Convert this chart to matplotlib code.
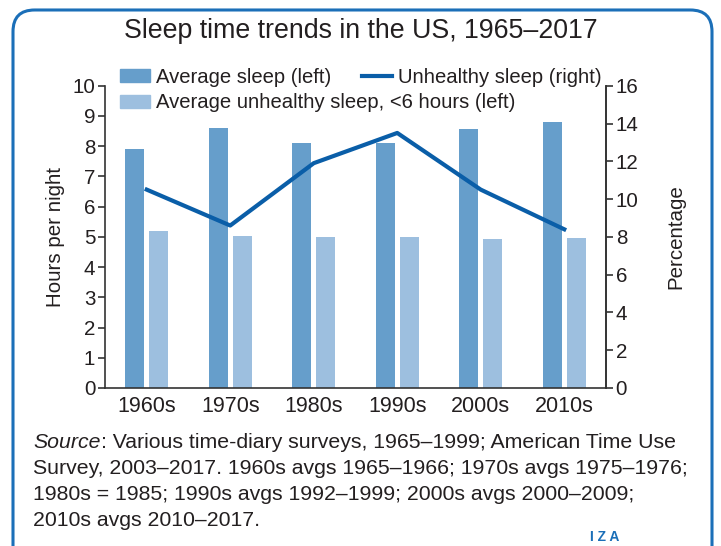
import matplotlib
matplotlib.use('Agg')
import matplotlib.pyplot as plt
import numpy as np
from matplotlib.patches import FancyBboxPatch, Patch
from matplotlib.lines import Line2D

decades = ['1960s', '1970s', '1980s', '1990s', '2000s', '2010s']
avg_sleep = [7.9, 8.6, 8.1, 8.1, 8.57, 8.8]
avg_unhealthy = [5.2, 5.03, 5.0, 5.0, 4.93, 4.96]
unhealthy_pct = [10.5, 8.6, 11.9, 13.5, 10.5, 8.4]

plt.rcParams['font.family'] = ['Liberation Sans', 'DejaVu Sans']
txt = '#231f20'
dark = '#669ecb'
light = '#9dbfdf'
line_c = '#0a5ea8'
fs = 14.8

fig = plt.figure(figsize=(7.21, 5.46), dpi=100)
ax = fig.add_axes([0.1456, 0.2894, 0.6949, 0.5536])
ax2 = ax.twinx()

x = np.arange(len(decades))
w = 0.228
ax.bar(x - 0.144, avg_sleep, w, color=dark, zorder=2)
ax.bar(x + 0.144, avg_unhealthy, w, color=light, zorder=2)
ax2.plot(x, unhealthy_pct, color=line_c, lw=3.0, zorder=3)

ax.set_xlim(-0.5, 5.5)
ax.set_ylim(0, 10)
ax2.set_ylim(0, 16)
ax.set_yticks(range(0, 11))
ax2.set_yticks(range(0, 17, 2))
ax.set_xticks(x)
ax.set_xticklabels(decades)

for a in (ax, ax2):
    a.spines['top'].set_visible(False)
    for s in a.spines.values():
        s.set_color('#333333')
        s.set_linewidth(1.2)
    a.tick_params(axis='y', length=5, width=1.2, colors='#333333', labelsize=fs, labelcolor=txt, pad=2)
ax.tick_params(axis='x', length=0, labelsize=15.5, labelcolor=txt, pad=6)
ax2.spines['left'].set_visible(False)
ax2.spines['bottom'].set_visible(False)

ax.set_ylabel('Hours per night', fontsize=fs, color=txt, labelpad=5)
ax2.set_ylabel('Percentage', fontsize=fs, color=txt, labelpad=20)

handles = [Patch(color=dark), Line2D([], [], color=line_c, lw=3.0), Patch(color=light)]
labels = ['Average sleep (left)', 'Unhealthy sleep (right)', 'Average unhealthy sleep, <6 hours (left)']
lfs = 14.6
leg = fig.legend(handles[:2], labels[:2], loc='upper left', bbox_to_anchor=(0.166, 0.876), ncol=2,
                 frameon=False, fontsize=lfs, handlelength=1.5, handleheight=0.6,
                 handletextpad=0.3, columnspacing=1.5, borderaxespad=0, borderpad=0)
for t in leg.get_texts():
    t.set_color(txt)
leg2 = fig.legend(handles[2:], labels[2:], loc='upper left', bbox_to_anchor=(0.166, 0.829),
                  frameon=False, fontsize=lfs, handlelength=1.5, handleheight=0.6,
                  handletextpad=0.3, borderaxespad=0, borderpad=0)
for t in leg2.get_texts():
    t.set_color(txt)

fig.text(0.5, 1 - 31 / 546, 'Sleep time trends in the US, 1965\u20132017', ha='center', va='center',
         fontsize=19.3, color=txt)

notes = [
    ': Various time-diary surveys, 1965\u20131999; American Time Use',
    'Survey, 2003\u20132017. 1960s avgs 1965\u20131966; 1970s avgs 1975\u20131976;',
    '1980s = 1985; 1990s avgs 1992\u20131999; 2000s avgs 2000\u20132009;',
    '2010s avgs 2010\u20132017.',
]
nfs = 15.3
y0 = 1 - 442 / 546
t0 = fig.text(0.046, y0, 'Source', fontsize=nfs, color=txt, style='italic', va='center')
fig.canvas.draw()
bb = t0.get_window_extent()
fig.text(bb.x1 / 721, y0, notes[0], fontsize=nfs, color=txt, va='center')
for i, n in enumerate(notes[1:], start=1):
    fig.text(0.046, y0 - i * 26 / 546, n, fontsize=nfs, color=txt, va='center')

fig.text(0.838, 1 - 537 / 546, 'I Z A', fontsize=10, color='#1b6fb8', ha='center', va='center',
         weight='bold')

box = FancyBboxPatch((13 / 721, -0.05), 699 / 721, 1.0317,
                     boxstyle='round,pad=0,rounding_size=0.03', transform=fig.transFigure,
                     fill=False, edgecolor='#1b6fb8', lw=2.2, mutation_aspect=721 / 546)
fig.patches.append(box)

fig.savefig('out.png', dpi=100)
